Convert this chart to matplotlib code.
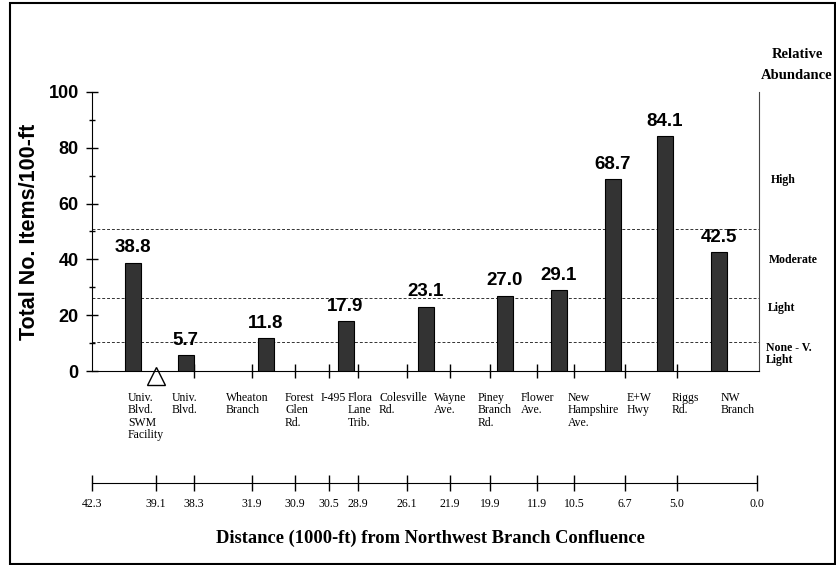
import matplotlib
matplotlib.use("Agg")
import matplotlib.pyplot as plt
import matplotlib.patches as mpatches
import matplotlib.transforms as mtransforms

# Dane
sites = [["Univ.", "Blvd.", "SWM", "Facility"], ["Univ.", "Blvd."],
         ["Wheaton", "Branch"], ["Forest", "Glen", "Rd."], ["I-495"],
         ["Flora", "Lane", "Trib."], ["Colesville", "Rd."], ["Wayne", "Ave."],
         ["Piney", "Branch", "Rd."], ["Flower", "Ave."],
         ["New", "Hampshire", "Ave."], ["E+W", "Hwy"], ["Riggs", "Rd."],
         ["NW", "Branch"]]
items = [38.8, 5.7, 11.8, 17.9, 23.1, 27.0, 29.1, 68.7, 84.1, 42.5]
distances = ["42.3", "39.1", "38.3", "31.9", "30.9", "30.5", "28.9", "26.1",
             "21.9", "19.9", "11.9", "10.5", "6.7", "5.0", "0.0"]
class_limits = [51, 26, 10.5]
class_names = ["High", "Moderate", "Light", "None - V.\nLight"]

# Uklad (pozycje na osi x, schematyczne)
tick_pos = [0, 64, 102, 160, 203, 237, 266, 315, 358, 398, 445, 482, 533, 585, 665]
bar_pos = [40.5, 93.5, 173.5, 253.5, 334, 413, 467, 521, 573, 627]
site_pos = [36, 80, 134, 193, 229, 256, 287, 342, 386, 429, 476, 535, 580, 629]
swm_pos = 64

W, H = 836, 565
sans = "Liberation Sans"
serif = "Liberation Serif"

fig = plt.figure(figsize=(W / 100, H / 100), dpi=100)

def px(x, y):
    return x / W, 1 - y / H

# Glowny wykres
ax = fig.add_axes([92 / W, (H - 371) / H, 667 / W, 279 / H])
ax.bar(bar_pos, items, width=16, color="#333333", edgecolor="black", linewidth=0.8, zorder=3)
for x, v in zip(bar_pos, items):
    ax.annotate(f"{v:.1f}", (x, v), xytext=(0, 4.5), textcoords="offset points",
                ha="center", va="bottom", fontsize=13.5, fontweight="bold", family=sans)

for lim in class_limits:
    ax.axhline(lim, color="#333333", lw=0.7, ls=(0, (3, 2)), zorder=1)

ax.set_xlim(0, 667)
ax.set_ylim(0, 100)
ax.spines["top"].set_visible(False)
ax.spines["right"].set_color("#444444")
ax.spines["left"].set_bounds(0, 100)
ax.set_yticks(range(0, 101, 20))
ax.set_yticks(range(10, 100, 20), minor=True)
ax.tick_params(axis="y", which="major", direction="inout", length=9, width=1, pad=5,
               labelsize=13)
ax.tick_params(axis="y", which="minor", direction="inout", length=5, width=1)
for lab in ax.get_yticklabels():
    lab.set_fontweight("bold")
    lab.set_family(sans)
ax.set_xticks(tick_pos[2:-1])
ax.tick_params(axis="x", direction="inout", length=10, width=1, labelbottom=False)

# Trojkat - SWM
trans = mtransforms.blended_transform_factory(ax.transData, ax.transAxes)
ax.plot([swm_pos], [-5 / 279], marker="^", markersize=13, markerfacecolor="white",
        markeredgecolor="black", markeredgewidth=1, transform=trans, clip_on=False)

# Nazwy miejsc
for x, lines in zip(site_pos, sites):
    ax.text(x, -21 / 279, "\n".join(lines), transform=trans, ha="left", va="top",
            multialignment="left", fontsize=8.5, family=serif, linespacing=1.05)

# Os odleglosci
ax2 = fig.add_axes([92 / W, (H - 483) / H, 667 / W, 0.01])
ax2.set_xlim(0, 667)
for s in ["top", "left", "right"]:
    ax2.spines[s].set_visible(False)
ax2.spines["bottom"].set_bounds(0, 665)
ax2.set_yticks([])
ax2.set_xticks(tick_pos)
ax2.set_xticklabels(distances, fontsize=8.5, family=serif)
ax2.tick_params(axis="x", direction="inout", length=12, width=1, pad=5)
ax2.patch.set_visible(False)

# Opisy
fig.text(*px(30, 232), "Total No. Items/100-ft", rotation=90, ha="center", va="center",
         fontsize=15.5, fontweight="bold", family=sans)
fig.text(*px(430, 538), "Distance (1000-ft) from Northwest Branch Confluence",
         ha="center", va="center", fontsize=13.3, fontweight="bold", family=serif)
fig.text(*px(797, 55), "Relative", ha="center", va="center", fontsize=10.5,
         fontweight="bold", family=serif)
fig.text(*px(797, 76), "Abundance", ha="center", va="center", fontsize=10.5,
         fontweight="bold", family=serif)
for (x, y), name in zip([(771, 180), (769, 260), (768, 308), (766, 354)], class_names):
    fig.text(*px(x, y), name, ha="left", va="center", fontsize=8.5, fontweight="bold",
             family=serif, linespacing=1.0)

# Ramka
frame = mpatches.Rectangle(px(10, 564), 825 / W, 561 / H, fill=False, lw=1.5,
                           edgecolor="black", transform=fig.transFigure, figure=fig)
fig.patches.append(frame)

plt.savefig("out.png", dpi=100)
